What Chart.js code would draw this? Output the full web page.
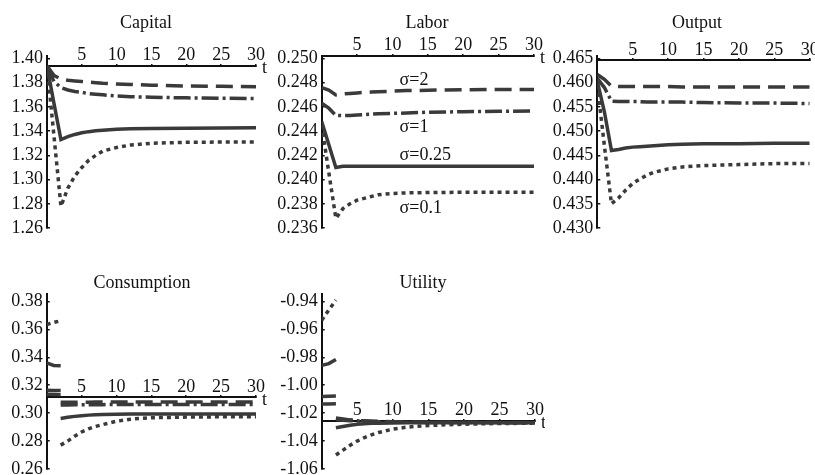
<!DOCTYPE html>
<html>
<head>
<meta charset="utf-8">
<script src="https://cdn.jsdelivr.net/npm/chart.js@4.4.0/dist/chart.umd.min.js"></script>
<style>
  body { margin: 0; background: #fff; width: 815px; height: 475px; position: relative; overflow: hidden; }
  canvas { position: absolute; }
</style>
</head>
<body>
<canvas id="capital"></canvas>
<canvas id="labor"></canvas>
<canvas id="output"></canvas>
<canvas id="consumption"></canvas>
<canvas id="utility"></canvas>
<script>
// time points
const tSteps = [0, 1, 2, 3, 4, 5, 6, 7, 8, 10, 12, 15, 20, 25, 30];
const tBefore = [0, 1, 2];
const tAfter = [2, 3, 4, 5, 6, 7, 8, 10, 12, 15, 20, 25, 30];
const xTicks = [5, 10, 15, 20, 25, 30];
const sigmaLabels = ['σ=2', 'σ=1', 'σ=0.25', 'σ=0.1'];

// Capital
const capital2   = [1.394, 1.386, 1.383, 1.382, 1.3815, 1.381, 1.3805, 1.380, 1.3795, 1.379, 1.3785, 1.378, 1.3773, 1.377, 1.3767];
const capital1   = [1.394, 1.381, 1.376, 1.374, 1.3727, 1.372, 1.371, 1.3705, 1.370, 1.369, 1.3685, 1.368, 1.3675, 1.3672, 1.367];
const capital025 = [1.394, 1.363, 1.333, 1.3355, 1.3373, 1.3387, 1.3396, 1.3403, 1.3408, 1.3415, 1.3419, 1.3422, 1.3425, 1.3427, 1.3428];
const capital01  = [1.394, 1.336, 1.278, 1.293, 1.303, 1.310, 1.316, 1.320, 1.3235, 1.3265, 1.3285, 1.330, 1.3308, 1.331, 1.331];
const capitalTicks = [1.26, 1.28, 1.30, 1.32, 1.34, 1.36, 1.38, 1.40];

// Labor
const labor2   = [0.2476, 0.2474, 0.2470, 0.24708, 0.24712, 0.24716, 0.2472, 0.24723, 0.24725, 0.2473, 0.24735, 0.24738, 0.24742, 0.24744, 0.24745];
const labor1   = [0.2463, 0.2459, 0.2453, 0.24528, 0.2453, 0.24533, 0.24537, 0.2454, 0.24543, 0.24547, 0.2455, 0.24556, 0.24561, 0.24564, 0.24566];
const labor025 = [0.2448, 0.2429, 0.2410, 0.2411, 0.2411, 0.2411, 0.2411, 0.2411, 0.2411, 0.2411, 0.2411, 0.2411, 0.2411, 0.2411, 0.2411];
const labor01  = [0.2445, 0.2406, 0.2368, 0.2376, 0.2380, 0.2383, 0.23845, 0.2386, 0.23875, 0.23885, 0.2389, 0.23893, 0.23895, 0.23895, 0.23895];
const laborTicks = [0.236, 0.238, 0.240, 0.242, 0.244, 0.246, 0.248, 0.250];

// Output
const output2   = [0.4617, 0.4607, 0.4593, 0.4592, 0.4592, 0.4592, 0.4592, 0.4592, 0.4592, 0.4592, 0.4591, 0.4591, 0.4591, 0.4591, 0.4591];
const output1   = [0.4609, 0.4590, 0.4562, 0.4561, 0.4561, 0.4561, 0.4561, 0.4560, 0.4560, 0.4560, 0.4560, 0.4559, 0.4558, 0.4558, 0.4557];
const output025 = [0.4603, 0.4540, 0.4460, 0.4462, 0.4465, 0.4467, 0.4468, 0.4469, 0.4470, 0.4472, 0.4473, 0.4474, 0.4474, 0.4475, 0.4475];
const output01  = [0.4595, 0.4470, 0.4350, 0.4362, 0.4378, 0.4392, 0.4401, 0.4409, 0.4415, 0.4422, 0.4426, 0.4429, 0.4431, 0.4433, 0.4433];
const outputTicks = [0.430, 0.435, 0.440, 0.445, 0.450, 0.455, 0.460, 0.465];

// Consumption (jumps at t=2, so split in a before and after part)
const consumption2Before   = [0.3135, 0.3133, 0.3132];
const consumption2After    = [0.3078, 0.3078, 0.3079, 0.3079, 0.3079, 0.3080, 0.3080, 0.3080, 0.3080, 0.3080, 0.3080, 0.3080, 0.3080];
const consumption1Before   = [0.3165, 0.3163, 0.3162];
const consumption1After    = [0.3058, 0.3059, 0.3060, 0.3060, 0.3061, 0.3061, 0.3061, 0.3062, 0.3062, 0.3062, 0.3062, 0.3062, 0.3062];
const consumption025Before = [0.3360, 0.3342, 0.3340];
const consumption025After  = [0.2962, 0.2970, 0.2977, 0.2982, 0.2986, 0.2989, 0.2991, 0.2993, 0.2994, 0.2994, 0.2994, 0.2994, 0.2994];
const consumption01Before  = [0.3635, 0.3650, 0.3662];
const consumption01After   = [0.2771, 0.2800, 0.2835, 0.2865, 0.2888, 0.2905, 0.2918, 0.2942, 0.2957, 0.2967, 0.2972, 0.2974, 0.2975];
const consumptionTicks = [0.26, 0.28, 0.30, 0.32, 0.34, 0.36, 0.38];

// Utility
const utility2Before   = [-1.0135, -1.0134, -1.0132];
const utility2After    = [-1.0235, -1.0242, -1.0248, -1.0252, -1.0255, -1.0257, -1.0259, -1.0261, -1.0263, -1.0264, -1.0265, -1.0266, -1.0266];
const utility1Before   = [-1.0080, -1.0079, -1.0077];
const utility1After    = [-1.0245, -1.0250, -1.0254, -1.0257, -1.0259, -1.0261, -1.0262, -1.0264, -1.0265, -1.0266, -1.0267, -1.0268, -1.0268];
const utility025Before = [-0.9858, -0.9845, -0.9815];
const utility025After  = [-1.0305, -1.0295, -1.0287, -1.0280, -1.0276, -1.0273, -1.0272, -1.0270, -1.0269, -1.0269, -1.0268, -1.0268, -1.0268];
const utility01Before  = [-0.9535, -0.9460, -0.9390];
const utility01After   = [-1.0500, -1.0465, -1.0430, -1.0400, -1.0375, -1.0355, -1.0338, -1.0315, -1.0300, -1.0288, -1.0279, -1.0274, -1.0272];
const utilityTicks = [-1.06, -1.04, -1.02, -1.00, -0.98, -0.96, -0.94];

// labels next to the labor curves (t, value)
const laborNotes = [
  { text: sigmaLabels[0], t: 11, v: 0.2482 },
  { text: sigmaLabels[1], t: 11, v: 0.2443 },
  { text: sigmaLabels[2], t: 11, v: 0.2420 },
  { text: sigmaLabels[3], t: 11, v: 0.23765 }
];

const INK = '#111';
const LINE = '#3a3a3a';
const FONT = "18px 'Liberation Serif'";
const dashes = [[17, 8], [17, 4, 3, 4], [], [4, 4]];

Chart.defaults.font.family = "'Liberation Serif', 'DejaVu Serif', serif";
Chart.defaults.font.size = 18;
Chart.defaults.color = INK;

function toPoints(ts, vals) {
  return vals.map((v, i) => ({ x: ts[i], y: v }));
}
function splitPoints(before, after) {
  return toPoints(tBefore, before).concat([{ x: 2, y: null }], toPoints(tAfter, after));
}

// Draw one panel; geometry is given in canvas pixels
function panel(cfg) {
  const canvas = document.getElementById(cfg.id);
  canvas.width = cfg.w;
  canvas.height = cfg.h;
  canvas.style.left = cfg.left + 'px';
  canvas.style.top = cfg.top + 'px';

  // panel title, the "t" at the end of the time axis, and curve labels
  const panelText = {
    id: 'panelText',
    afterDraw(chart) {
      const { ctx, scales } = chart;
      const x = scales.x, y = scales.y;
      ctx.save();
      ctx.fillStyle = INK;
      ctx.font = FONT;
      ctx.textBaseline = 'middle';
      ctx.textAlign = 'center';
      ctx.fillText(cfg.title, cfg.titleX, cfg.titleY);
      ctx.textAlign = 'left';
      ctx.fillText('t', x.right + 6, y.getPixelForValue(cfg.xCross) + 3);
      (cfg.notes || []).forEach(n => {
        ctx.fillText(n.text, x.getPixelForValue(n.t), y.getPixelForValue(n.v));
      });
      ctx.restore();
    }
  };

  new Chart(canvas, {
    type: 'line',
    data: {
      datasets: cfg.series.map((pts, i) => ({
        label: sigmaLabels[i],
        data: pts,
        borderColor: LINE,
        borderWidth: 3.5,
        borderDash: dashes[i],
        pointRadius: 0,
        tension: 0,
        fill: false
      }))
    },
    options: {
      responsive: false,
      animation: false,
      events: [],
      layout: { padding: { left: 0, right: cfg.w - cfg.areaRight, top: cfg.areaTop, bottom: cfg.h - cfg.areaBottom } },
      plugins: {
        legend: { display: false },
        tooltip: { enabled: false },
        title: { display: false }
      },
      scales: {
        x: {
          type: 'linear',
          min: 0,
          max: 30,
          position: { y: cfg.xCross },
          afterBuildTicks: s => { s.ticks = xTicks.map(v => ({ value: v })); },
          afterFit: s => { s.paddingLeft = 0; s.paddingRight = 0; },
          ticks: { autoSkip: false, maxRotation: 0, padding: -17.8 },
          grid: { drawOnChartArea: false, tickLength: -3, color: INK, lineWidth: 1.5 },
          border: { color: INK, width: 2 }
        },
        y: {
          type: 'linear',
          min: cfg.yMin,
          max: cfg.yMax,
          position: 'left',
          afterBuildTicks: s => { s.ticks = cfg.yTicks.map(v => ({ value: v })); },
          afterFit: s => { s.width = cfg.areaLeft; s.paddingTop = 0; s.paddingBottom = 0; },
          ticks: { padding: 7, callback: v => v.toFixed(cfg.decimals) },
          grid: { drawOnChartArea: false, tickLength: -3, color: INK, lineWidth: 1.5 },
          border: { color: INK, width: 2 }
        }
      }
    },
    plugins: [panelText]
  });
}

panel({
  id: 'capital', title: 'Capital', left: 0, top: 0, w: 270, h: 240,
  areaLeft: 47, areaRight: 256, areaTop: 55.5, areaBottom: 228, titleX: 146, titleY: 23,
  yMin: 1.26, yMax: 1.4025, yTicks: capitalTicks, decimals: 2, xCross: 1.3942,
  series: [capital2, capital1, capital025, capital01].map(s => toPoints(tSteps, s))
});

panel({
  id: 'labor', title: 'Labor', left: 270, top: 0, w: 275, h: 240,
  areaLeft: 51.7, areaRight: 264, areaTop: 55.5, areaBottom: 228, titleX: 157, titleY: 23,
  yMin: 0.236, yMax: 0.25025, yTicks: laborTicks, decimals: 3, xCross: 0.25025,
  notes: laborNotes,
  series: [labor2, labor1, labor025, labor01].map(s => toPoints(tSteps, s))
});

panel({
  id: 'output', title: 'Output', left: 545, top: 0, w: 270, h: 240,
  areaLeft: 52.3, areaRight: 264.7, areaTop: 55.5, areaBottom: 228, titleX: 152, titleY: 23,
  yMin: 0.430, yMax: 0.46562, yTicks: outputTicks, decimals: 3, xCross: 0.46469,
  series: [output2, output1, output025, output01].map(s => toPoints(tSteps, s))
});

panel({
  id: 'consumption', title: 'Consumption', left: 0, top: 240, w: 270, h: 235,
  areaLeft: 46.7, areaRight: 256, areaTop: 54, areaBottom: 229, titleX: 142, titleY: 43,
  yMin: 0.26, yMax: 0.38537, yTicks: consumptionTicks, decimals: 2, xCross: 0.3115,
  series: [
    splitPoints(consumption2Before, consumption2After),
    splitPoints(consumption1Before, consumption1After),
    splitPoints(consumption025Before, consumption025After),
    splitPoints(consumption01Before, consumption01After)
  ]
});

panel({
  id: 'utility', title: 'Utility', left: 270, top: 240, w: 275, h: 235,
  areaLeft: 51.7, areaRight: 265, areaTop: 54, areaBottom: 229, titleX: 153, titleY: 43,
  yMin: -1.06, yMax: -0.93463, yTicks: utilityTicks, decimals: 2, xCross: -1.0254,
  series: [
    splitPoints(utility2Before, utility2After),
    splitPoints(utility1Before, utility1After),
    splitPoints(utility025Before, utility025After),
    splitPoints(utility01Before, utility01After)
  ]
});
</script>
</body>
</html>
